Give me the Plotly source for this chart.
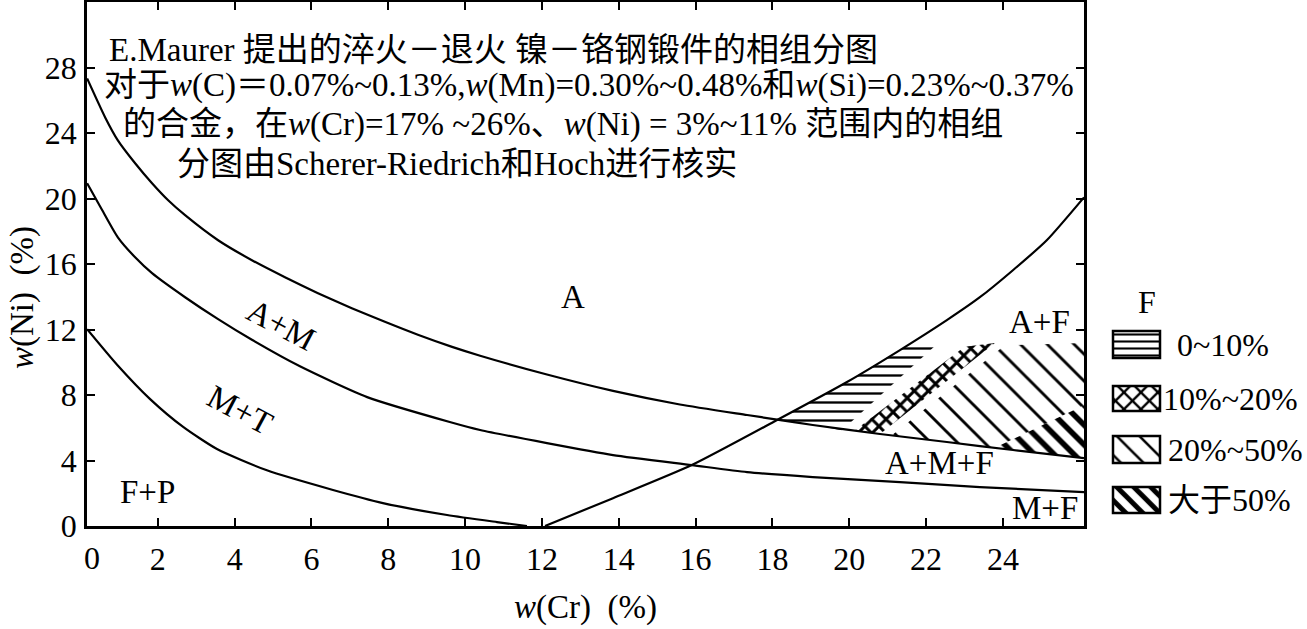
import plotly.graph_objects as go

# ---------------- data ----------------
x_tick_vals = [2, 4, 6, 8, 10, 12, 14, 16, 18, 20, 22, 24]
y_tick_vals = [0, 4, 8, 12, 16, 20, 24, 28]

# boundary A | A+M
b1_cr = [0.16, 0.63, 0.96, 1.41, 1.85, 2.27, 2.71, 3.57, 4.45, 5.31, 6.17, 7.05, 7.91,
         8.77, 9.66, 10.39, 12.13, 13.85, 15.59, 17.34, 18.12, 19.05, 20.80, 22.54, 24.26, 26.11]
b1_ni = [27.33, 24.95, 23.55, 22.15, 20.93, 19.89, 18.98, 17.45, 16.23, 15.19, 14.22, 13.30, 12.47,
         11.68, 10.94, 10.40, 9.25, 8.25, 7.42, 6.78, 6.50, 6.17, 5.62, 5.13, 4.64, 4.15]
# boundary A+M | M+T
b2_cr = [0.16, 0.55, 0.96, 1.41, 1.85, 2.71, 3.57, 4.45, 5.70, 7.45, 9.60, 10.39, 12.13,
         13.85, 15.90, 17.34, 19.05, 21.32, 23.40, 26.11]
b2_ni = [20.93, 19.30, 17.63, 16.41, 15.44, 13.97, 12.63, 11.37, 9.75, 7.87, 6.35, 5.86, 5.06,
         4.33, 3.72, 3.29, 2.99, 2.68, 2.38, 2.07]
# boundary M+T | F+P
b3_cr = [0.16, 0.94, 1.80, 2.66, 3.54, 4.84, 6.56, 7.86, 9.53, 10.83, 11.61]
b3_ni = [12.02, 9.85, 7.75, 6.05, 4.70, 3.40, 2.20, 1.40, 0.67, 0.24, 0.0]
# boundary A | A+F
b4_cr = [12.08, 13.85, 15.90, 18.12, 19.94, 21.32, 22.54, 23.40, 24.26, 25.14, 26.11]
b4_ni = [0.0, 1.70, 3.72, 6.47, 8.79, 10.74, 12.57, 13.97, 15.62, 17.45, 20.07]

# ferrite content zones
f1_cr = [18.12, 19.94, 21.55, 22.28, 19.81, 19.05]      # 0~10%
f1_ni = [6.47, 8.79, 11.10, 11.10, 5.85, 6.17]
f2_cr = [20.15, 20.80, 23.79, 23.00]                    # 10%~20%
f2_ni = [5.85, 5.62, 11.17, 10.95]
f3_cr = [21.10, 24.05, 26.11, 26.11, 23.79, 22.54]      # 20%~50%
f3_ni = [5.52, 11.04, 11.17, 7.38, 4.78, 5.13]
f4_cr = [23.79, 26.11, 26.11, 24.26]                    # >50%
f4_ni = [4.78, 7.38, 4.15, 4.64]

legend_title = "F"
legend_labels = ["0~10%", "10%~20%", "20%~50%", "大于50%"]

region_labels = ["A", "A+M", "M+T", "F+P", "A+F", "A+M+F", "M+F"]

title_lines = [
    "E.Maurer 提出的淬火－退火 镍－铬钢锻件的相组分图",
    "对于<i>w</i>(C)＝0.07%~0.13%,<i>w</i>(Mn)=0.30%~0.48%和<i>w</i>(Si)=0.23%~0.37%",
    "的合金，在<i>w</i>(Cr)=17% ~26%、<i>w</i>(Ni) = 3%~11% 范围内的相组",
    "分图由Scherer-Riedrich和Hoch进行核实",
]

# ---------------- figure ----------------
SERIF = "Liberation Serif, Noto Sans CJK SC, serif"
fig = go.Figure()


def hatch(cr, ni, shape, size, solid, xa="x", ya="y"):
    fig.add_trace(go.Scatter(
        x=cr, y=ni, mode="lines", fill="toself",
        line=dict(width=0, color="black"),
        fillcolor="rgba(0,0,0,0)",
        fillpattern=dict(shape=shape, size=size, solidity=solid, fgcolor="black",
                         bgcolor="rgba(0,0,0,0)", fillmode="replace"),
        xaxis=xa, yaxis=ya, hoverinfo="skip", showlegend=False))


zone_styles = [("-", 9, 0.26), ("x", 10, 0.5), ("\\", 19, 0.15), ("\\", 14, 0.4)]
for (cr, ni), st in zip([(f1_cr, f1_ni), (f2_cr, f2_ni), (f3_cr, f3_ni), (f4_cr, f4_ni)], zone_styles):
    hatch(cr, ni, *st)

for cr, ni in [(b1_cr, b1_ni), (b2_cr, b2_ni), (b3_cr, b3_ni), (b4_cr, b4_ni)]:
    fig.add_trace(go.Scatter(x=cr, y=ni, mode="lines",
                             line=dict(color="black", width=2.2, shape="spline", smoothing=0.6),
                             hoverinfo="skip", showlegend=False))

# legend (drawn in a helper axis whose units are pixels)
legend_boxes = [(1113, 331, 1160, 358), (1113, 386, 1160, 411), (1113, 436, 1160, 463), (1113, 487, 1160, 513)]
legend_styles = [("-", 7, 0.3), ("x", 12, 0.35), ("\\", 16, 0.16), ("\\", 12, 0.42)]
legend_text_x = [1175, 1161, 1166, 1166]
FS_LEG = 32
shapes = []
annotations = []
for (x0, y0, x1, y1), st, lab, tx in zip(legend_boxes, legend_styles, legend_labels, legend_text_x):
    hatch([x0, x1, x1, x0], [y0, y0, y1, y1], *st, xa="x2", ya="y2")
    shapes.append(dict(type="rect", xref="x2", yref="y2", x0=x0, y0=y0, x1=x1, y1=y1,
                       line=dict(color="black", width=2.5)))
    annotations.append(dict(xref="x2", yref="y2", x=tx, y=(y0 + y1) / 2, text=lab, showarrow=False,
                            xanchor="left", yanchor="middle", font=dict(family=SERIF, size=FS_LEG, color="black")))
annotations.append(dict(xref="x2", yref="y2", x=1147, y=302, text=legend_title, showarrow=False,
                        xanchor="center", yanchor="middle", font=dict(family=SERIF, size=FS_LEG, color="black")))

# region labels
region_pos = [(12.81, 13.97, 0), (5.21, 12.26, 28), (4.14, 7.08, 28), (1.72, 2.07, 0),
              (24.96, 12.45, 0), (22.36, 3.84, 0), (25.09, 1.10, 0)]
for lab, (x, y, ang) in zip(region_labels, region_pos):
    annotations.append(dict(xref="x", yref="y", x=x, y=y, text=lab, showarrow=False, textangle=ang,
                            xanchor="center", yanchor="middle", font=dict(family=SERIF, size=33, color="black")))

# title lines inside the plot
title_pos = [(0.68, 29.04), (0.56, 26.9), (1.05, 24.53), (2.45, 22.09)]
for txt, (x, y) in zip(title_lines, title_pos):
    annotations.append(dict(xref="x", yref="y", x=x, y=y, text=txt, showarrow=False,
                            xanchor="left", yanchor="middle", font=dict(family=SERIF, size=33, color="black")))

# axis titles and the "0" label of the Cr axis
annotations.append(dict(xref="paper", yref="paper", x=(585 - 87) / 1220, y=(526 - 607) / 524,
                        text="<i>w</i>(Cr)  (%)", showarrow=False, xanchor="center", yanchor="middle",
                        font=dict(family=SERIF, size=33, color="black")))
annotations.append(dict(xref="paper", yref="paper", x=(22 - 87) / 1220, y=(526 - 298) / 524,
                        text="<i>w</i>(Ni)  (%)", showarrow=False, textangle=-90, xanchor="center",
                        yanchor="middle", font=dict(family=SERIF, size=33, color="black")))
annotations.append(dict(xref="paper", yref="paper", x=(92 - 87) / 1220, y=(526 - 558) / 524,
                        text="0", showarrow=False, xanchor="center", yanchor="middle",
                        font=dict(family=SERIF, size=32, color="black")))

axis_common = dict(ticks="inside", ticklen=8, tickwidth=2, tickcolor="black", showline=True,
                   linewidth=2.5, linecolor="black", mirror="ticks", showgrid=False, zeroline=False,
                   tickfont=dict(family=SERIF, size=32, color="black"))

fig.update_layout(
    width=1307, height=629, autosize=False,
    margin=dict(l=87, r=0, t=2, b=103),
    paper_bgcolor="white", plot_bgcolor="white", showlegend=False,
    xaxis=dict(domain=[0, 997 / 1220], range=[0.157, 26.11], tickvals=x_tick_vals,
               ticklabelstandoff=3, **axis_common),
    yaxis=dict(domain=[0, 1], range=[0, 32], tickvals=y_tick_vals, ticklabelstandoff=1, **axis_common),
    xaxis2=dict(domain=[1003 / 1220, 1], range=[1090, 1307], visible=False, anchor="y2"),
    yaxis2=dict(domain=[0, 1], range=[526, 2], visible=False, anchor="x2"),
    shapes=shapes, annotations=annotations,
)

fig.write_html("out.html")
